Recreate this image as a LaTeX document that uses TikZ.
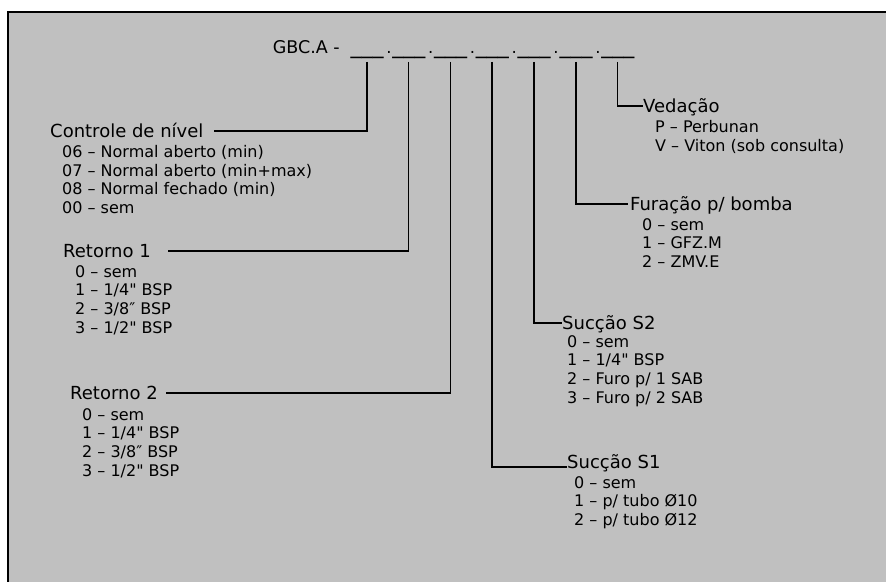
\documentclass[tikz,border=0pt]{standalone}
\usepackage{fontspec}
\setmainfont{DejaVu Sans}
\usetikzlibrary{positioning, calc}
\definecolor{panel}{HTML}{C0C0C0}
\tikzset{
  code/.style={font=\fontsize{17.5}{20}\selectfont, inner sep=0pt},
  blank/.style={font=\fontsize{22}{22}\selectfont, inner sep=0pt, anchor=base west},
  field/.style={
    font=\fontsize{18}{20}\selectfont,
    inner sep=0pt,
    text height=12pt,
    text depth=0pt,
    anchor=base west
  },
  options/.style={
    font=\fontsize{16}{18.7}\selectfont,
    inner sep=0pt,
    align=left,
    anchor=north west
  },
  lead/.style={line width=1.6pt}
}
\newcommand{\qt}{\textquotedbl}
\begin{document}
\begin{tikzpicture}[x=1pt, y=-1pt]
  \useasboundingbox (0,0) rectangle (886,581);

  % panel
  \draw[line width=2pt, fill=panel] (8,12) rectangle (892,590);

  % order code
  \node[code, anchor=base east] (gbc) at (340,53) {GBC.A -};
  \foreach \i in {1,...,7} {
    \node[blank] (s\i) at ({308.5+41.8*\i},53.5) {\_\_\_\ifnum\i<7 {\fontsize{16.5}{20}\selectfont\,.}\fi};
    \coordinate (t\i) at ([xshift=16.5pt, yshift=-3pt]s\i.south west);
  }

  % left fields
  \node[field] (ctrl) at (50,137) {Controle de nível};
  \node[options] (ctrl-opt) at (62,145) {06 – Normal aberto (min)\\07 – Normal aberto (min+max)\\08 – Normal fechado (min)\\00 – sem};

  \node[field] (ret1) at (63,257) {Retorno 1};
  \node[options] (ret1-opt) at (75,265) {0 – sem\\1 – 1/4\qt{} BSP\\2 – 3/8″ BSP\\3 – 1/2\qt{} BSP};

  \node[field] (ret2) at (70,399) {Retorno 2};
  \node[options] (ret2-opt) at (82,408) {0 – sem\\1 – 1/4\qt{} BSP\\2 – 3/8″ BSP\\3 – 1/2\qt{} BSP};

  % right fields
  \node[field] (ved) at (643,112) {Vedação};
  \node[options] (ved-opt) at (655,120) {P – Perbunan\\V – Viton (sob consulta)};

  \node[field] (fur) at (630,210) {Furação p/ bomba};
  \node[options] (fur-opt) at (642,218) {0 – sem\\1 – GFZ.M\\2 – ZMV.E};

  \node[field] (suc2) at (562,329) {Sucção S2};
  \node[options] (suc2-opt) at (567,335) {0 – sem\\1 – 1/4\qt{} BSP\\2 – Furo p/ 1 SAB\\3 – Furo p/ 2 SAB};

  \node[field] (suc1) at (567,468) {Sucção S1};
  \node[options] (suc1-opt) at (574,476) {0 – sem\\1 – p/ tubo Ø10\\2 – p/ tubo Ø12};

  % leaders
  \draw[lead] (t1) |- ([xshift=10pt]ctrl.east);
  \draw[lead] (t2) |- ([xshift=17pt]ret1.east);
  \draw[lead] (t3) |- ([xshift=8pt]ret2.east);
  \draw[lead] (t4) |- ([yshift=1pt]suc1.base west);
  \draw[lead] (t5) |- (suc2.west);
  \draw[lead] (t6) |- ([xshift=-2pt]fur.west);
  \draw[lead] (t7) |- (ved.west);
\end{tikzpicture}
\end{document}
